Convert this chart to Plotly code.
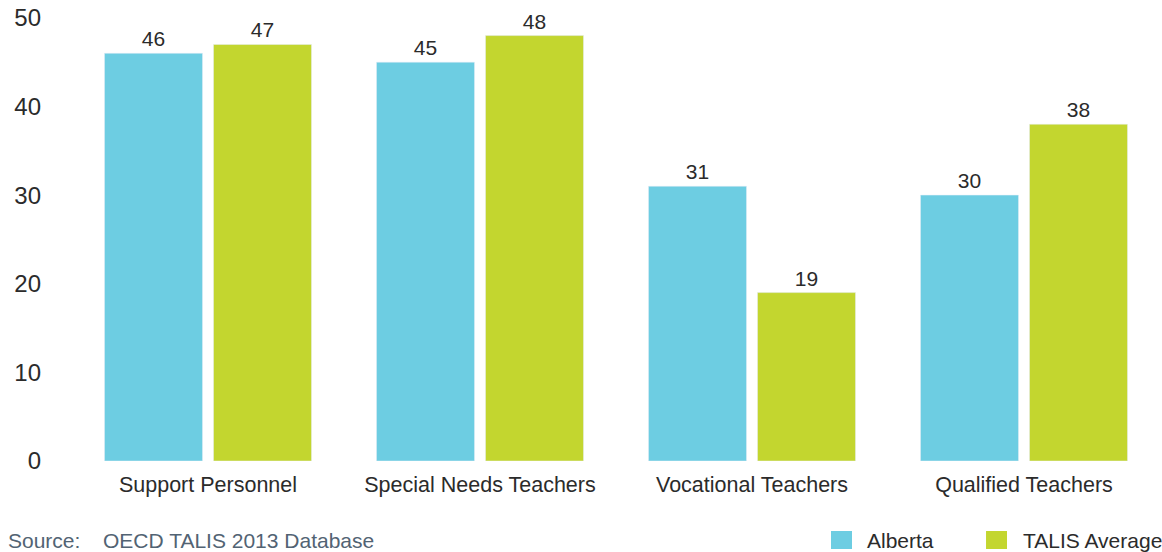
import plotly.graph_objects as go

# Data
categories = ["Support Personnel", "Special Needs Teachers", "Vocational Teachers", "Qualified Teachers"]
alberta = [46, 45, 31, 30]
talis_average = [47, 48, 19, 38]
y_ticks = [0, 10, 20, 30, 40, 50]
series_names = ["Alberta", "TALIS Average"]

FONT = "Liberation Sans, Arial, Helvetica, sans-serif"
BLUE = "#6dcde2"
GREEN = "#c3d62f"
TEXT = "#2b2b2b"
SOURCE = "#526373"

fig = go.Figure()
for name, vals, col in [(series_names[0], alberta, BLUE), (series_names[1], talis_average, GREEN)]:
    fig.add_trace(go.Bar(
        name=name, x=categories, y=vals, marker_color=col,
        text=vals, textposition="outside", cliponaxis=False,
        textfont=dict(size=21, color=TEXT, family=FONT),
        showlegend=False,
    ))

# Legend drawn as swatches + labels along the bottom right
legend_items = [
    (series_names[0], BLUE, 0.6976, 0.7169, 0.7289),
    (series_names[1], GREEN, 0.8401, 0.8594, 0.8722),
]
shapes = []
annotations = []
for name, col, sx0, sx1, tx in legend_items:
    shapes.append(dict(type="rect", xref="paper", yref="paper",
                       x0=sx0, x1=sx1, y0=-0.1947, y1=-0.1549,
                       fillcolor=col, line=dict(width=0)))
    annotations.append(dict(text=name, xref="paper", yref="paper", x=tx, y=-0.1748,
                            xanchor="left", yanchor="middle", showarrow=False,
                            font=dict(size=21, color=TEXT, family=FONT)))

# Source line
annotations += [
    dict(text="Source:", xref="paper", yref="paper", x=-0.0605, y=-0.1748,
         xanchor="left", yanchor="middle", showarrow=False,
         font=dict(size=21, color=SOURCE, family=FONT)),
    dict(text="OECD TALIS 2013 Database", xref="paper", yref="paper", x=0.0265, y=-0.1748,
         xanchor="left", yanchor="middle", showarrow=False,
         font=dict(size=21, color=SOURCE, family=FONT)),
]

fig.update_layout(
    width=1162, height=552,
    margin=dict(l=72, r=2, t=9, b=91),
    paper_bgcolor="white", plot_bgcolor="white",
    barmode="group", bargap=0.1985, bargroupgap=0.101,
    font=dict(family=FONT, color=TEXT),
    showlegend=False,
    shapes=shapes,
    annotations=annotations,
)

fig.update_xaxes(
    showline=False, showgrid=False, zeroline=False,
    tickfont=dict(size=21.5, color=TEXT, family=FONT),
    ticklabelstandoff=8,
)
fig.update_yaxes(
    range=[0, 51], tickvals=y_ticks, showgrid=False, zeroline=False, showline=False,
    tickfont=dict(size=24, color=TEXT, family=FONT),
    ticklabelstandoff=30,
)

fig.write_html("out.html")
